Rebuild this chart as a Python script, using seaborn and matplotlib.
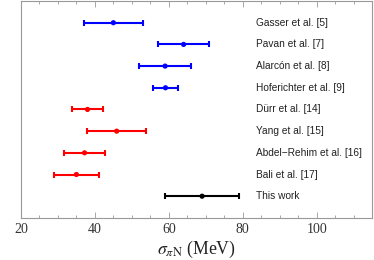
import pandas as pd
import matplotlib.pyplot as plt
import seaborn as sns

# Data
labels = ["Gasser et al. [5]", "Pavan et al. [7]", "Alarcón et al. [8]",
          "Hoferichter et al. [9]", "Dürr et al. [14]", "Yang et al. [15]",
          "Abdel\u2212Rehim et al. [16]", "Bali et al. [17]", "This work"]
sigma = [45.0, 64.0, 59.0, 59.1, 38.0, 45.9, 37.2, 35.0, 69.0]
err_lo = [8.0, 7.0, 7.0, 3.5, 4.3, 7.9, 5.6, 6.1, 10.0]
err_hi = [8.0, 7.0, 7.0, 3.5, 4.2, 7.9, 5.5, 6.1, 10.0]
group = ["pheno"] * 4 + ["lattice"] * 4 + ["ours"]

palette = {"pheno": "#0000ff", "lattice": "#ff0000", "ours": "#000000"}

df = pd.DataFrame({"label": labels, "sigma": sigma, "lo": err_lo,
                   "hi": err_hi, "group": group})
df["row"] = range(1, len(df) + 1)

sns.set_style("ticks")
plt.rcParams["mathtext.fontset"] = "stix"

fig = plt.figure(figsize=(3.74, 2.6), dpi=100)
ax = fig.add_axes([0.056, 0.162, 0.939, 0.834])

for _, r in df.iterrows():
    ax.errorbar(r["sigma"], r["row"], xerr=[[r["lo"]], [r["hi"]]],
                fmt="none", ecolor=palette[r["group"]], elinewidth=1.5,
                capsize=2.2, capthick=1.5)
    ax.text(83.5, r["row"], r["label"], ha="left", va="center",
            fontsize=7.3, family="Liberation Sans", color="#222222")

sns.scatterplot(data=df, x="sigma", y="row", hue="group", palette=palette,
                s=14, edgecolor="none", legend=False, ax=ax, zorder=3)

ax.set_xlim(20, 115)
ax.set_ylim(10, 0)
ax.set_yticks([])
ax.set_ylabel("")
ax.set_xticks([20, 40, 60, 80, 100])
ax.set_xticks(range(25, 115, 5), minor=True)
ax.tick_params(axis="x", which="both", direction="in", top=True,
               color="#999999", width=0.6)
ax.tick_params(axis="x", which="major", length=4)
ax.tick_params(axis="x", which="minor", length=2)
for lab in ax.get_xticklabels():
    lab.set_family("Liberation Serif")
    lab.set_fontsize(10)
    lab.set_color("#333333")
for sp in ax.spines.values():
    sp.set_visible(True)
    sp.set_color("#999999")
    sp.set_linewidth(0.8)

ax.set_xlabel(r"$\sigma_{\pi\mathrm{N}}$ (MeV)", family="Liberation Serif",
              fontsize=12.8, color="#222222", labelpad=2)

fig.savefig("out.png", dpi=100)
plt.close()
